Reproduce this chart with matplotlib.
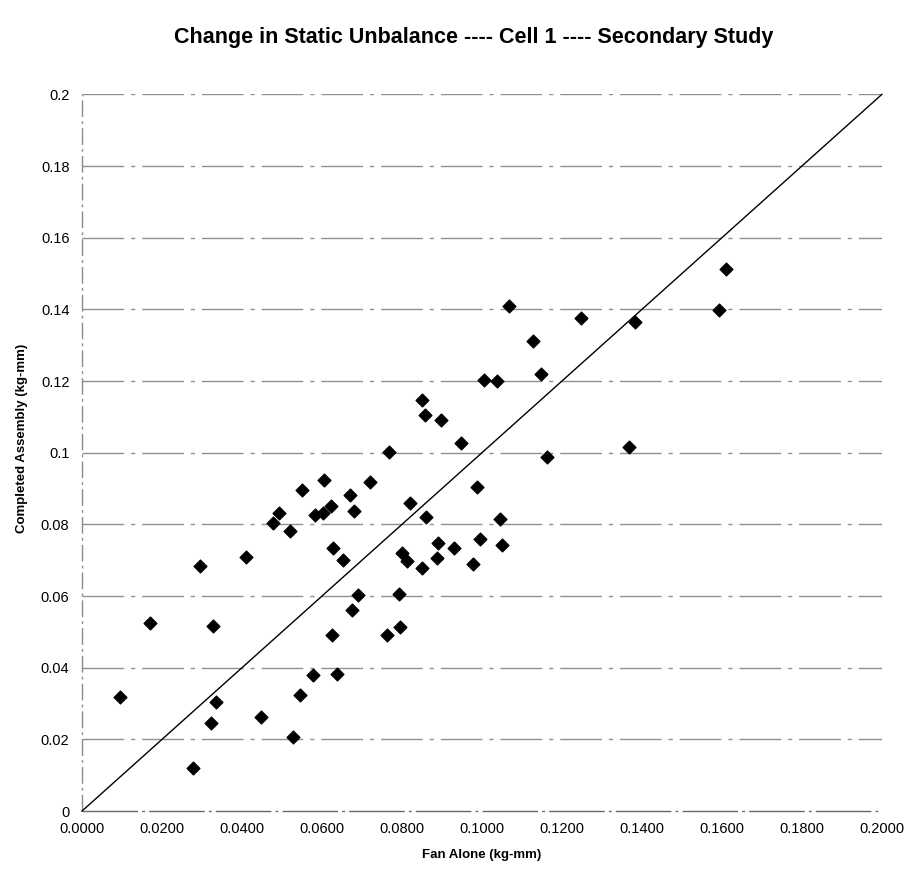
import numpy as np
import matplotlib.pyplot as plt
from matplotlib.ticker import MultipleLocator, FormatStrFormatter, FuncFormatter

plt.rcParams['font.family'] = ['Liberation Sans', 'DejaVu Sans']

# static unbalance, kg-mm
fan_alone = [0.0096, 0.0169, 0.0277, 0.0294, 0.0322, 0.0327, 0.0335, 0.0411, 0.0447, 0.0477,
             0.0493, 0.0519, 0.0528, 0.0545, 0.0550, 0.0577, 0.0583, 0.0602, 0.0606, 0.0623,
             0.0624, 0.0627, 0.0638, 0.0652, 0.0669, 0.0676, 0.0679, 0.0690, 0.0719, 0.0763,
             0.0768, 0.0793, 0.0794, 0.0801, 0.0812, 0.0821, 0.0850, 0.0851, 0.0858, 0.0861,
             0.0888, 0.0891, 0.0898, 0.0931, 0.0948, 0.0977, 0.0987, 0.0994, 0.1006, 0.1037,
             0.1046, 0.1049, 0.1067, 0.1127, 0.1148, 0.1163, 0.1247, 0.1369, 0.1384, 0.1593,
             0.1611]
completed = [0.0319, 0.0525, 0.0120, 0.0683, 0.0245, 0.0516, 0.0305, 0.0709, 0.0263, 0.0803,
             0.0832, 0.0782, 0.0206, 0.0323, 0.0895, 0.0379, 0.0826, 0.0832, 0.0923, 0.0852,
             0.0491, 0.0734, 0.0382, 0.0700, 0.0881, 0.0560, 0.0837, 0.0602, 0.0917, 0.0491,
             0.1003, 0.0605, 0.0514, 0.0721, 0.0697, 0.0860, 0.0678, 0.1148, 0.1104, 0.0821,
             0.0706, 0.0747, 0.1092, 0.0734, 0.1026, 0.0689, 0.0903, 0.0760, 0.1202, 0.1199,
             0.0816, 0.0743, 0.1409, 0.1312, 0.1221, 0.0987, 0.1377, 0.1016, 0.1366, 0.1397,
             0.1513]

fig = plt.figure(figsize=(9.11, 8.74), dpi=100)
ax = fig.add_axes([0.090, 0.072, 0.878, 0.820])

# horizontal grid, broken grey lines
for yv in np.arange(0.02, 0.201, 0.02):
    ax.axhline(yv, color='#909090', lw=1.0, ls=(0, (30, 5, 3, 5)), zorder=1)
ax.axhline(0, color='#6a6a6a', lw=1.0, ls=(0, (40, 3, 2, 3)), zorder=1, clip_on=False)
ax.axvline(0, color='#8a8a8a', lw=1.0, ls=(0, (12, 3, 2, 3)), zorder=1, clip_on=False)

# 1:1 line
ax.plot([0, 0.2], [0, 0.2], color='black', lw=1.0, zorder=2, clip_on=False)

ax.scatter(fan_alone, completed, marker='D', s=42, color='black', zorder=3)

ax.set_xlim(0, 0.2)
ax.set_ylim(0, 0.2)
ax.xaxis.set_major_locator(MultipleLocator(0.02))
ax.yaxis.set_major_locator(MultipleLocator(0.02))
ax.xaxis.set_major_formatter(FormatStrFormatter('%.4f'))
ax.yaxis.set_major_formatter(FuncFormatter(lambda v, p: '%g' % round(v, 2)))
ax.tick_params(length=0, labelsize=10.5, pad=8)
ax.tick_params(axis='y', pad=9)

for s in ax.spines.values():
    s.set_visible(False)

ax.set_xlabel('Fan Alone (kg-mm)', fontsize=9.5, fontweight='bold', labelpad=9)
ax.set_ylabel('Completed Assembly (kg-mm)', fontsize=9.5, fontweight='bold', labelpad=7)
ax.yaxis.set_label_coords(-0.068, 0.52)

fig.text(0.52, 0.957, 'Change in Static Unbalance ---- Cell 1 ---- Secondary Study',
         ha='center', va='center', fontsize=15.5, fontweight='bold')

plt.savefig('out.png', dpi=100)
